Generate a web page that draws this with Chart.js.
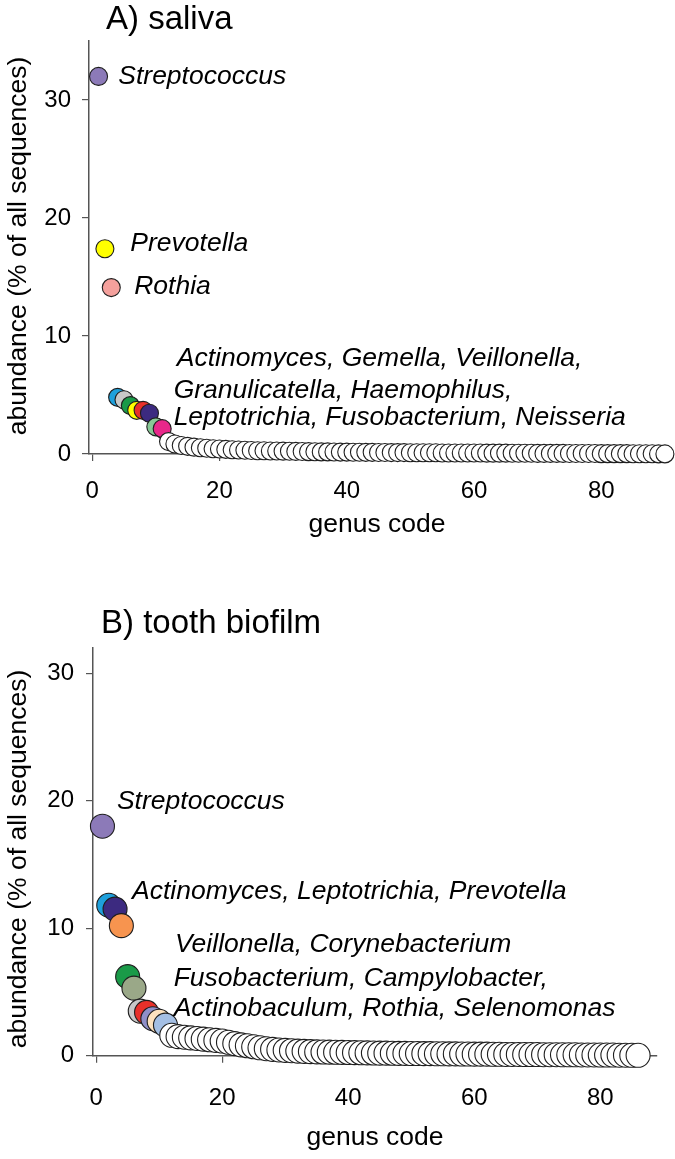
<!DOCTYPE html>
<html><head><meta charset="utf-8">
<script src="https://cdn.jsdelivr.net/npm/chart.js@4.4.0/dist/chart.umd.min.js"></script>
<style>
html,body{margin:0;padding:0;background:#fff;}
#wrap{position:relative;width:675px;height:1159px;overflow:hidden;background:#fff;}
#cA{position:absolute;left:0;top:0;}
#cB{position:absolute;left:0;top:560px;}
</style></head><body>
<div id="wrap"><canvas id="cA" width="675" height="560"></canvas><canvas id="cB" width="675" height="599"></canvas></div>
<script>
// ---- data ----
const salivaValues = [
  32.0, 17.4, 14.1, 4.8, 4.6, 4.1, 3.7, 3.7, 3.45, 2.3,
  2.15, 1.05, 0.85, 0.72, 0.65, 0.58, 0.53, 0.49, 0.45, 0.42,
  0.39, 0.36, 0.34, 0.32, 0.30, 0.28, 0.27, 0.26, 0.25, 0.24,
  0.23, 0.22, 0.21, 0.20, 0.19, 0.18, 0.18, 0.17, 0.16, 0.16,
  0.15, 0.15, 0.14, 0.14, 0.13, 0.13, 0.12, 0.12, 0.12, 0.11,
  0.11, 0.10, 0.10, 0.10, 0.09, 0.09, 0.09, 0.08, 0.08, 0.08,
  0.08, 0.07, 0.07, 0.07, 0.07, 0.06, 0.06, 0.06, 0.06, 0.05,
  0.05, 0.05, 0.05, 0.05, 0.04, 0.04, 0.04, 0.04, 0.04, 0.03,
  0.03, 0.03, 0.03, 0.03, 0.02, 0.02, 0.02, 0.02, 0.01, 0.01
];
const salivaColors = ['#8c7ab8','#ffff00','#f4a09c','#1ea0dc','#c8c8c8','#1a9a48','#ffff00','#e8302a','#3c2a80','#88c896','#e8288a'];
const salivaLabels = [
  {text:'Streptococcus', x:4.1, y:32.0},
  {text:'Prevotella', x:6.0, y:17.8},
  {text:'Rothia', x:6.6, y:14.2},
  {text:'Actinomyces, Gemella, Veillonella,', x:13.3, y:8.1},
  {text:'Granulicatella, Haemophilus,', x:12.8, y:5.4},
  {text:'Leptotrichia, Fusobacterium, Neisseria', x:12.8, y:3.05}
];

const biofilmValues = [
  18.0, 11.8, 11.5, 10.2, 6.2, 5.3, 3.5, 3.4, 2.9, 2.7,
  2.4, 1.6, 1.5, 1.45, 1.4, 1.35, 1.3, 1.25, 1.2, 1.15,
  1.05, 0.95, 0.85, 0.78, 0.70, 0.62, 0.55, 0.50, 0.45, 0.42,
  0.39, 0.36, 0.34, 0.32, 0.30, 0.29, 0.28, 0.27, 0.26, 0.25,
  0.24, 0.23, 0.22, 0.21, 0.20, 0.20, 0.19, 0.18, 0.18, 0.17,
  0.17, 0.16, 0.16, 0.15, 0.15, 0.14, 0.14, 0.13, 0.13, 0.12,
  0.12, 0.12, 0.11, 0.11, 0.10, 0.10, 0.10, 0.09, 0.09, 0.09,
  0.08, 0.08, 0.08, 0.07, 0.07, 0.07, 0.06, 0.06, 0.06, 0.05,
  0.05, 0.05, 0.04, 0.04, 0.03, 0.03
];
const biofilmColors = ['#8c7ab8','#1ea0dc','#3c2a80','#f7944f','#1a9a48','#9aa888','#c8c8c8','#e8302a','#8f8fc8','#fde2bf','#a4bfe4'];
const biofilmLabels = [
  {text:'Streptococcus', x:3.3, y:19.9},
  {text:'Actinomyces, Leptotrichia, Prevotella', x:5.7, y:12.9},
  {text:'Veillonella, Corynebacterium', x:12.5, y:8.7},
  {text:'Fusobacterium, Campylobacter,', x:12.3, y:6.07},
  {text:'Actinobaculum, Rothia, Selenomonas', x:12.3, y:3.7}
];

const xTickValues = [0, 20, 40, 60, 80];
const yTickValues = [0, 10, 20, 30];
const xTitle = 'genus code';
const yTitle = 'abundance (% of all sequences)';

// ---- drawing ----
const FONT = "'Liberation Sans', Arial, sans-serif";

const annotatePlugin = {
  id: 'annot',
  afterDatasetsDraw(chart, args, opts) {
    const {ctx} = chart;
    const x = chart.scales.x, y = chart.scales.y;
    ctx.save();
    ctx.fillStyle = '#000';
    ctx.font = 'italic 26.5px ' + FONT;
    ctx.textBaseline = 'middle';
    ctx.textAlign = 'left';
    opts.labels.forEach(l => ctx.fillText(l.text, x.getPixelForValue(l.x), y.getPixelForValue(l.y)));
    // panel title
    ctx.font = '33px ' + FONT;
    ctx.textBaseline = 'alphabetic';
    ctx.fillText(opts.title, opts.titleX, opts.titleY);
    // y axis title
    ctx.translate(opts.yTitleX, opts.yTitleY);
    ctx.rotate(-Math.PI / 2);
    ctx.font = '26.5px ' + FONT;
    ctx.textAlign = 'center';
    ctx.textBaseline = 'middle';
    ctx.fillText(yTitle, 0, 0);
    ctx.restore();
  }
};

function makeChart(id, values, colors, labels, cfg) {
  const pts = values.map((v, i) => ({x: i + 1, y: v}));
  const bg = values.map((v, i) => i < colors.length ? colors[i] : '#ffffff');
  return new Chart(document.getElementById(id), {
    type: 'scatter',
    data: {datasets: [{
      data: pts,
      backgroundColor: bg,
      pointBackgroundColor: bg,
      borderColor: '#1e1e1e',
      pointBorderColor: '#1e1e1e',
      borderWidth: 1.1,
      pointRadius: cfg.radius,
      pointHoverRadius: cfg.radius,
      clip: false
    }]},
    options: {
      responsive: false,
      animation: false,
      devicePixelRatio: 1,
      layout: {padding: cfg.padding},
      plugins: {
        legend: {display: false},
        tooltip: {enabled: false},
        annot: {labels: labels, title: cfg.title, titleX: cfg.titleX, titleY: cfg.titleY,
                yTitleX: cfg.yTitleX, yTitleY: cfg.yTitleY}
      },
      scales: {
        x: {
          type: 'linear', min: -0.5, max: cfg.xMax,
          afterBuildTicks: s => { s.ticks = xTickValues.map(v => ({value: v})); },
          afterFit: s => { s.height = cfg.xHeight; },
          grid: {display: true, drawOnChartArea: false, drawTicks: true, tickLength: 7, color: '#555', lineWidth: 1.2},
          border: {display: true, color: '#555', width: 1.5},
          ticks: {color: '#000', font: {family: FONT, size: 24}, padding: cfg.xTickPad, maxRotation: 0},
          title: {display: true, text: xTitle, color: '#000', font: {family: FONT, size: 26.5, lineHeight: 1}, padding: {top: 0, bottom: cfg.xTitlePad}}
        },
        y: {
          type: 'linear', min: 0, max: cfg.yMax,
          afterBuildTicks: s => { s.ticks = yTickValues.map(v => ({value: v})); },
          afterFit: s => { s.width = cfg.yWidth; },
          grid: {display: true, drawOnChartArea: false, drawTicks: true, tickLength: 7, color: '#555', lineWidth: 1.2},
          border: {display: true, color: '#555', width: 1.5},
          ticks: {color: '#000', font: {family: FONT, size: 24}, padding: cfg.yTickPad},
          title: {display: false}
        }
      }
    },
    plugins: [annotatePlugin]
  });
}

makeChart('cA', salivaValues, salivaColors, salivaLabels, {
  radius: 9, xMax: 90, yMax: 35,
  padding: {left: 0, top: 41, right: 9, bottom: 0},
  yWidth: 89, xHeight: 106, xTickPad: 16, yTickPad: 11, xTitlePad: 22,
  title: 'A) saliva', titleX: 106, titleY: 29,
  yTitleX: 19, yTitleY: 246
});
makeChart('cB', biofilmValues, biofilmColors, biofilmLabels, {
  radius: 12, xMax: 89, yMax: 32,
  padding: {left: 0, top: 87.7, right: 18, bottom: 0},
  yWidth: 93, xHeight: 103.3, xTickPad: 21, yTickPad: 12, xTitlePad: 8,
  title: 'B) tooth biofilm', titleX: 101, titleY: 72.5,
  yTitleX: 19, yTitleY: 299
});
</script>
</body></html>
